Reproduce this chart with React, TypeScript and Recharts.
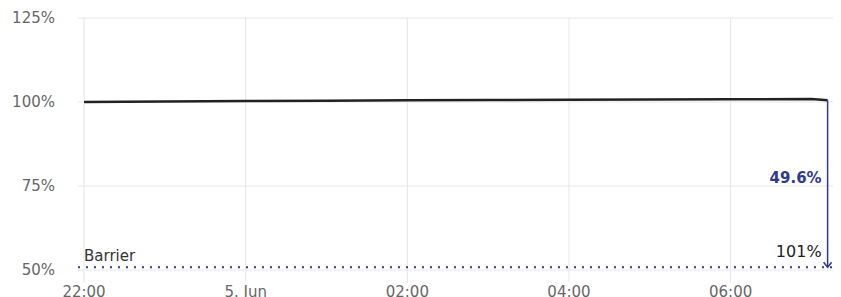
import React from "react";
import {
  ComposedChart,
  Line,
  XAxis,
  YAxis,
  CartesianGrid,
  ReferenceLine,
  ReferenceDot,
} from "recharts";

// minutes after 22:00
const times = [0, 60, 120, 180, 240, 300, 360, 420, 480, 540, 552];
const values = [100.0, 100.15, 100.3, 100.4, 100.5, 100.6, 100.7, 100.75, 100.8, 100.9, 100.5];

const xTicks = [0, 120, 240, 360, 480];
const xTickLabels = ["22:00", "5. Jun", "02:00", "04:00", "06:00"];
const yTicks = [50, 75, 100, 125];

const barrier = 50.8;
const distanceLabel = "49.6%";
const levelLabel = "101%";

const NAVY = "#2e3a8c";
const GRID = "#e6e6e6";
const FONT = "'DejaVu Sans', sans-serif";

const data = times.map((t, i) => ({ t, v: values[i] }));
const last = data[data.length - 1];

const ArrowShape = (props: any) => {
  const { x1, y1, x2, y2 } = props;
  return (
    <g>
      <line x1={x1} y1={y1} x2={x2} y2={y2} stroke={NAVY} strokeWidth={1.5} />
      <path
        d={`M${x2 - 4},${y2 - 5} L${x2},${y2} L${x2 + 4},${y2 - 5}`}
        fill="none"
        stroke={NAVY}
        strokeWidth={1.5}
      />
    </g>
  );
};

export default function App() {
  return (
    <div style={{ position: "absolute", left: 0, top: 0, fontFamily: FONT }}>
      <ComposedChart
        width={841}
        height={297}
        data={data}
        margin={{ top: 18, right: 8, bottom: 0, left: 0 }}
      >
        <CartesianGrid stroke={GRID} vertical={false} />
        {xTicks.map((t) => (
          <ReferenceLine key={t} x={t} stroke={GRID} />
        ))}
        <XAxis
          dataKey="t"
          type="number"
          domain={[-4.5, 556]}
          ticks={xTicks}
          tickFormatter={(v: number) => xTickLabels[xTicks.indexOf(v)]}
          axisLine={false}
          tickLine={{ stroke: GRID }}
          tickSize={13}
          tickMargin={3}
          height={27}
          tick={{ fill: "#666", fontSize: 15, fontFamily: FONT }}
        />
        <YAxis
          type="number"
          domain={[50, 125]}
          ticks={yTicks}
          tickFormatter={(v: number) => `${v}%`}
          axisLine={false}
          tickLine={false}
          tickSize={0}
          tickMargin={23}
          width={78}
          tick={{ fill: "#666", fontSize: 15, fontFamily: FONT }}
        />
        <ReferenceLine
          y={barrier}
          stroke={NAVY}
          strokeWidth={2}
          strokeDasharray="2 6"
          label={{
            value: "Barrier",
            position: "insideBottomLeft",
            offset: 6,
            fill: "#333",
            fontSize: 15,
            fontFamily: FONT,
          }}
        />
        <Line
          dataKey="v"
          stroke="#222"
          strokeWidth={2.5}
          dot={false}
          type="linear"
          isAnimationActive={false}
        />
        <ReferenceLine
          segment={[
            { x: last.t, y: last.v },
            { x: last.t, y: barrier },
          ]}
          shape={ArrowShape}
        />
        <ReferenceDot
          x={last.t}
          y={77.5}
          r={1}
          fill="none"
          stroke="none"
          label={{
            value: distanceLabel,
            position: "left",
            offset: 5,
            fill: NAVY,
            fontSize: 15,
            fontWeight: "bold",
            fontFamily: FONT,
          }}
        />
        <ReferenceDot
          x={last.t}
          y={55.5}
          r={1}
          fill="none"
          stroke="none"
          label={{
            value: levelLabel,
            position: "left",
            offset: 5,
            fill: "#222",
            fontSize: 16,
            fontFamily: FONT,
          }}
        />
      </ComposedChart>
    </div>
  );
}
